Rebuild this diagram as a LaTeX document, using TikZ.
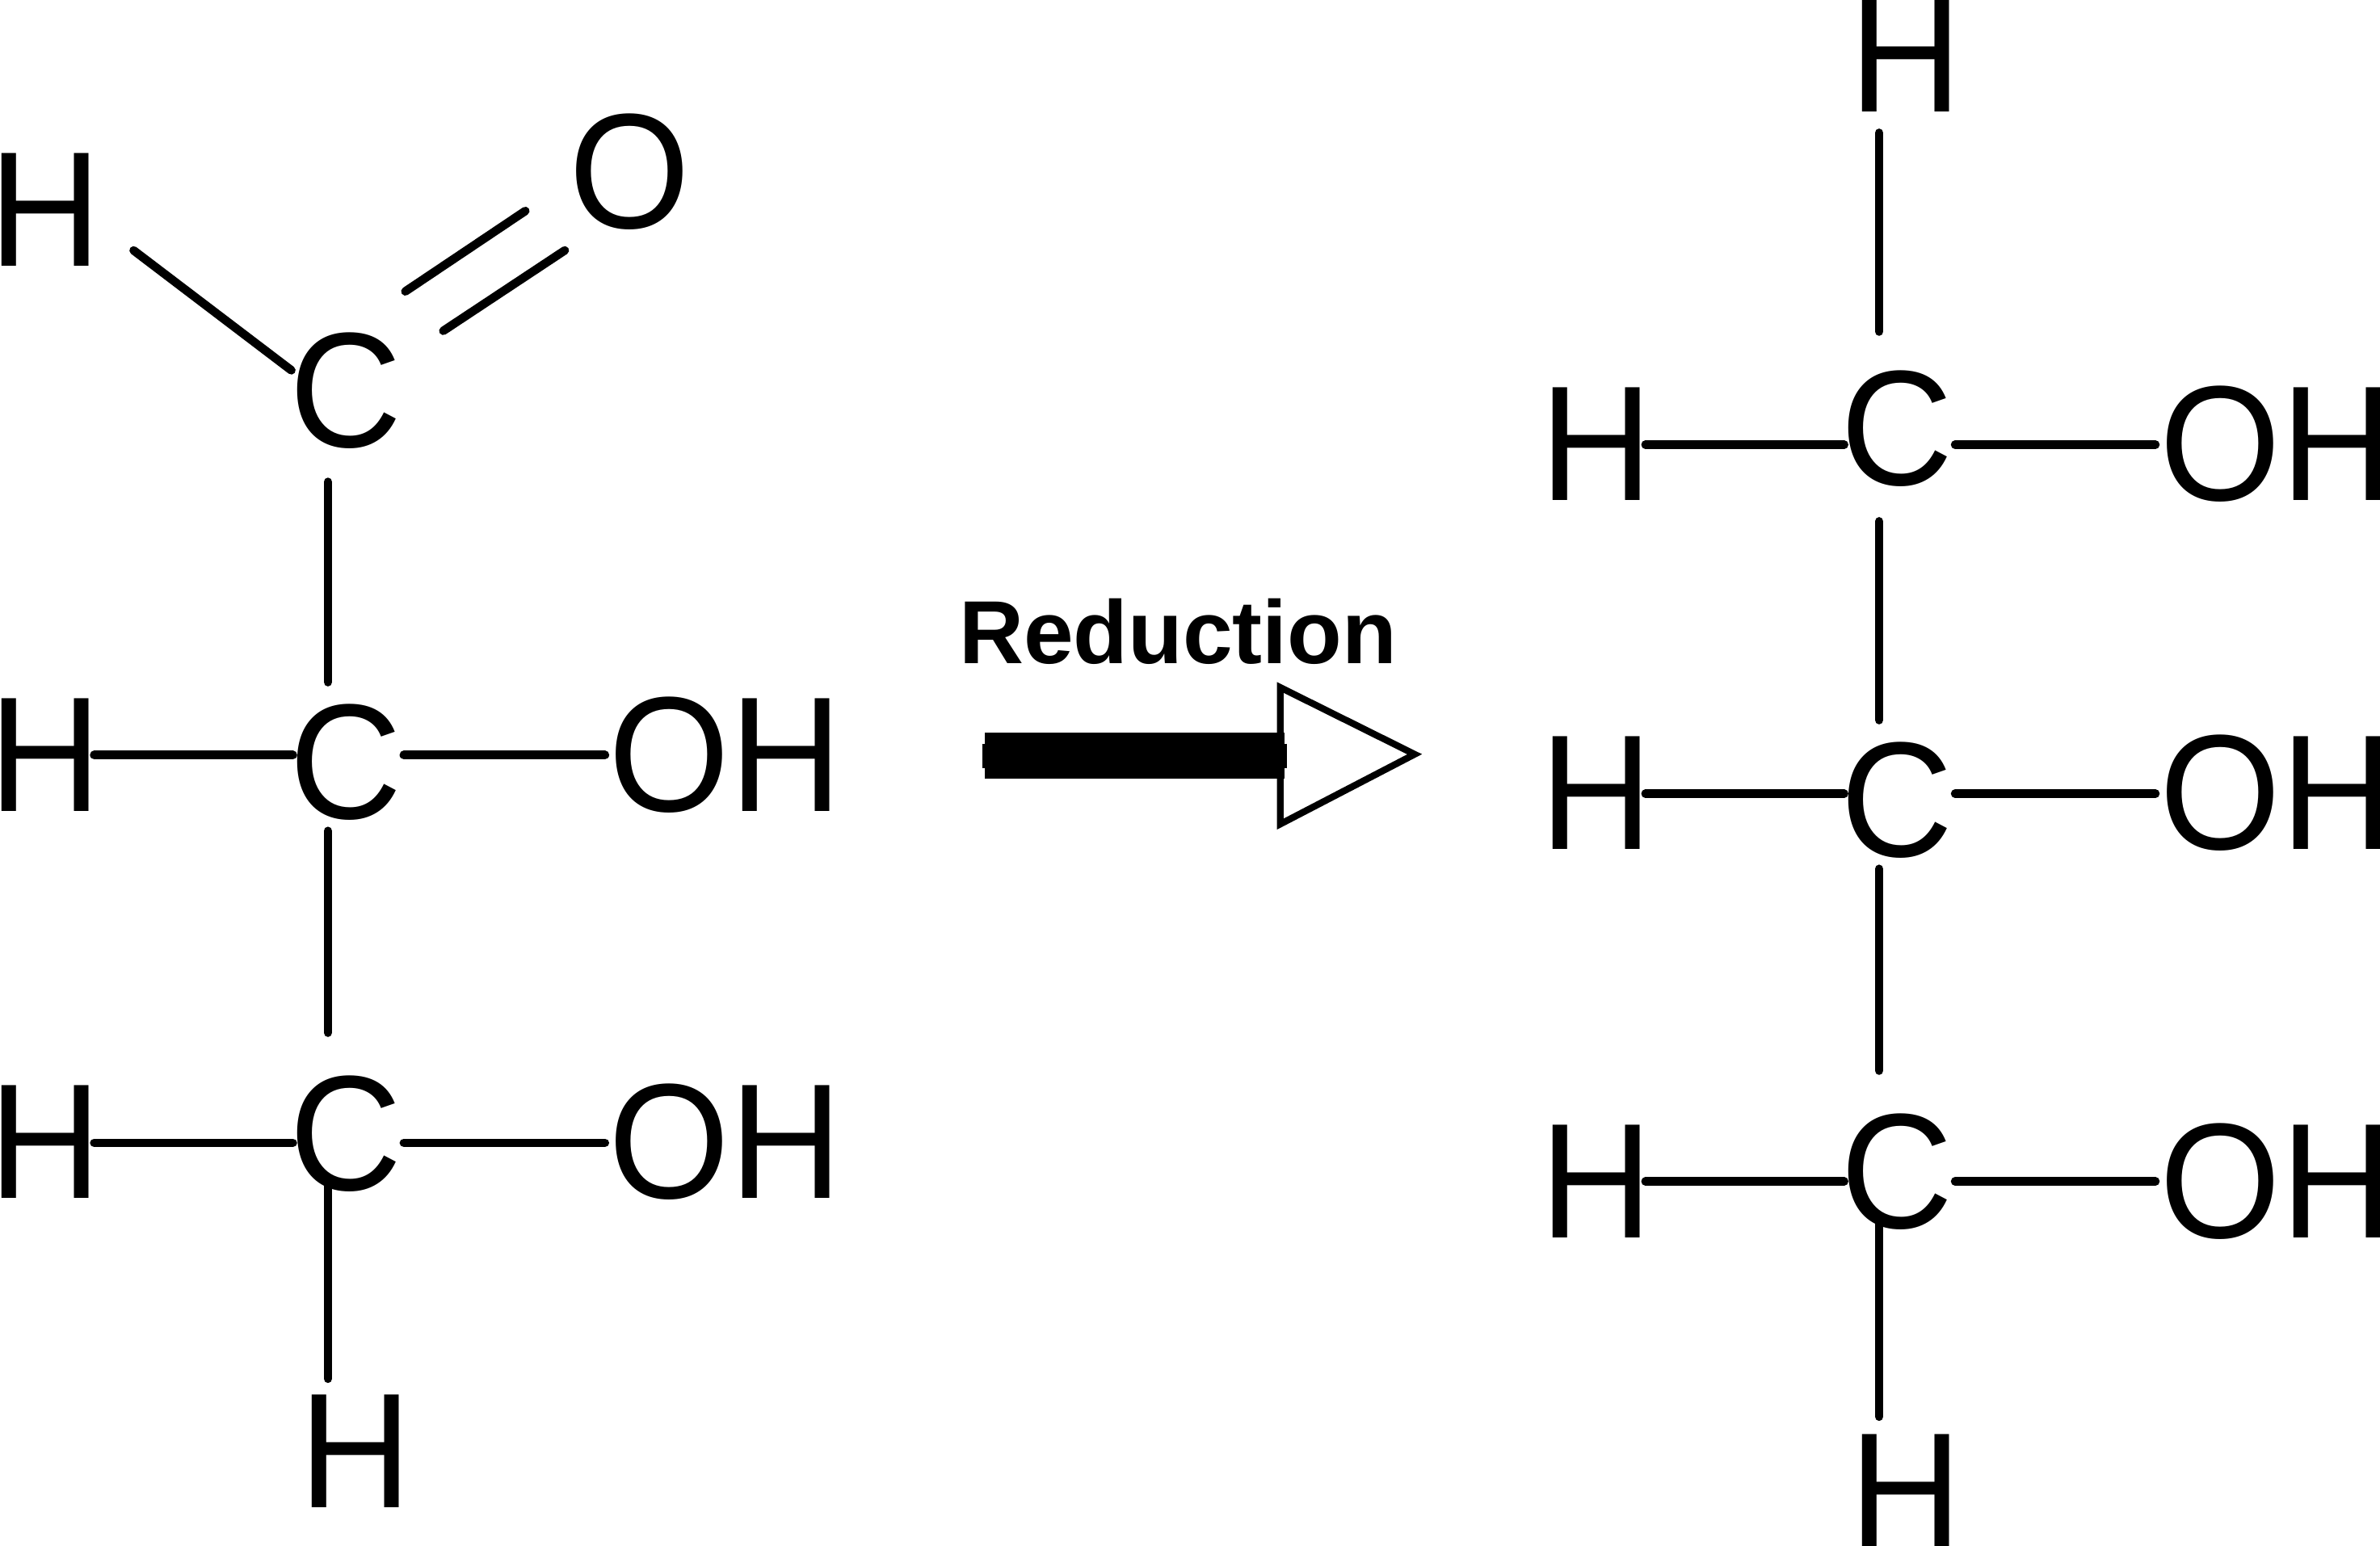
\documentclass[tikz,border=0pt]{standalone}
\usepackage{fontspec}
\setmainfont{Liberation Sans}
\newfontfamily\atomfont[FakeStretch=0.95]{Liberation Sans}
\usetikzlibrary{arrows}

\begin{document}
\begin{tikzpicture}[x=0.5pt,y=-0.5pt]
\tikzset{atom/.style={inner sep=0pt,outer sep=0pt,text height=37.5pt,text depth=0pt,font=\atomfont\fontsize{54}{54}\selectfont},
bond/.style={line width=2.8pt,line cap=round},
shaft/.style={line width=15pt},
shaftcap/.style={line width=8pt},
openhead/.style={draw,fill=white,line width=2.2pt,line join=miter}}
\useasboundingbox (0,0) rectangle (1568,1018.7);

% aldehyde side
\node[atom] (htop) at (30,138) {H};
\node[atom] (oxy) at (415,113) {O};
\node[atom] (ca) at (228,257) {C};
\node[atom] (hb) at (30,497) {H};
\node[atom] (cb) at (228,502) {C};
\node[atom] (ohb) at (478,497) {OH};
\node[atom] (hc) at (30,752) {H};
\node[atom] (cc) at (228,747) {C};
\node[atom] (ohc) at (478,752) {OH};
\node[atom] (hbot) at (234,956) {H};

\draw[bond] ([shift={(21,27)}]htop.east) -- ([shift={(1,-13)}]ca.west);
\draw[bond] ([shift={(2,-65)}]ca.east) -- ([shift={(-29,26)}]oxy.west);
\draw[bond] ([shift={(27,-39)}]ca.east) -- ([shift={(-3,52)}]oxy.west);
\draw[bond] ([shift={(-12,23)}]ca.south) -- ([shift={(-12,-15)}]cb.north);
\draw[bond] ([shift={(-12,8)}]cb.south) -- ([shift={(-12,-29)}]cc.north);
\draw[bond] ([shift={(-12,-5)}]cc.south) -- ([shift={(-18,-10)}]hbot.north);
\draw[bond] ([shift={(-5,0.5)}]hb.east) -- ([shift={(2,-4.5)}]cb.west);
\draw[bond] ([shift={(1,-4.5)}]cb.east) -- ([shift={(-2.5,0.5)}]ohb.west);
\draw[bond] ([shift={(-5,1)}]hc.east) -- ([shift={(2,6)}]cc.west);
\draw[bond] ([shift={(1,6)}]cc.east) -- ([shift={(-2.5,1)}]ohc.west);

% arrow
\node[font=\fontsize{29.5}{30}\bfseries\selectfont,inner sep=0pt,text height=21.5pt,text depth=0pt] (reduction) at (776,415.5) {Reduction};
\coordinate (tail) at (649,498);
\coordinate (headbase) at (846,498);
\coordinate (headtop) at (843.5,453);
\coordinate (headtip) at (932,497);
\coordinate (headbot) at (843.5,543);
\draw[openhead] (headtop) -- (headtip) -- (headbot) -- cycle;
\draw[shaft] (tail) -- (headbase);
\draw[shaftcap] ([xshift=-1pt]tail) -- ([xshift=1pt]headbase);

% alcohol side
\node[atom] (rhtop) at (1255.5,36) {H};
\node[atom] (rha) at (1051.5,292) {H};
\node[atom] (rca) at (1250,282) {C};
\node[atom] (roha) at (1500,292) {OH};
\node[atom] (rhb) at (1051.5,522) {H};
\node[atom] (rcb) at (1250,527) {C};
\node[atom] (rohb) at (1500,522) {OH};
\node[atom] (rhc) at (1051.5,778) {H};
\node[atom] (rcc) at (1250,772) {C};
\node[atom] (rohc) at (1500,778) {OH};
\node[atom] (rhbot) at (1255.5,982) {H};

\draw[bond] ([shift={(-17.5,14)}]rhtop.south) -- ([shift={(-12,-26)}]rca.north);
\draw[bond] ([shift={(-12,24)}]rca.south) -- ([shift={(-12,-15)}]rcb.north);
\draw[bond] ([shift={(-12,8)}]rcb.south) -- ([shift={(-12,-29)}]rcc.north);
\draw[bond] ([shift={(-12,-5)}]rcc.south) -- ([shift={(-17.5,-11)}]rhbot.north);
\draw[bond] ([shift={(-4.5,1)}]rha.east) -- ([shift={(2,11)}]rca.west);
\draw[bond] ([shift={(1,11)}]rca.east) -- ([shift={(-3,1)}]roha.west);
\draw[bond] ([shift={(-4.5,1)}]rhb.east) -- ([shift={(2,-4)}]rcb.west);
\draw[bond] ([shift={(1,-4)}]rcb.east) -- ([shift={(-3,1)}]rohb.west);
\draw[bond] ([shift={(-4.5,0.5)}]rhc.east) -- ([shift={(2,6.5)}]rcc.west);
\draw[bond] ([shift={(1,6.5)}]rcc.east) -- ([shift={(-3,0.5)}]rohc.west);
\end{tikzpicture}
\end{document}
